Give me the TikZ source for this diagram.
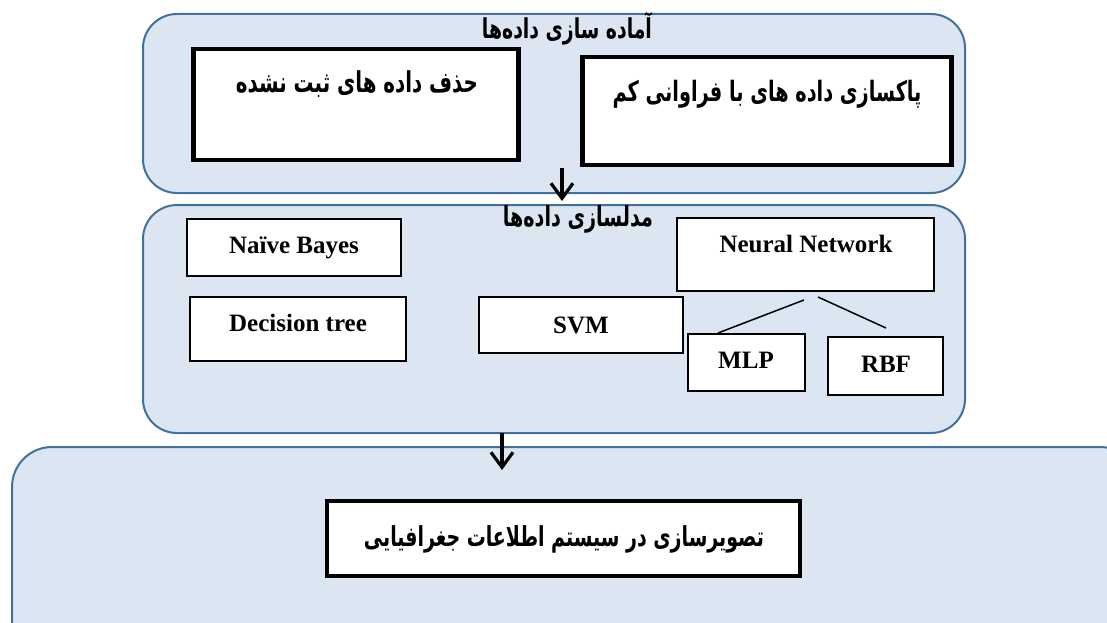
\documentclass[tikz,border=0pt]{standalone}
\usepackage{fontspec}
\setmainfont{Liberation Serif}
\newfontfamily\arabicfont[Script=Arabic]{DejaVu Sans}
\TeXXeTstate=1
\usetikzlibrary{arrows.meta}
\definecolor{panelfill}{HTML}{DCE6F2}
\definecolor{panelline}{HTML}{41719C}
\newcommand\fatext[2]{\scalebox{1}[1.45]{\resizebox{#1}{!}{\arabicfont\bfseries #2}}}
\begin{document}
\begin{tikzpicture}[x=1pt,y=-1pt,
  panel/.style={draw=panelline, fill=panelfill, line width=2pt, rounded corners=34pt, inner sep=0pt},
  thickbox/.style={draw=black, fill=white, line width=4.5pt, inner sep=0pt},
  thinbox/.style={draw=black, fill=white, line width=2pt, inner sep=0pt,
    font=\fontsize{25}{30}\selectfont\bfseries},
  label/.style={inner sep=0pt, font=\fontsize{25}{30}\selectfont\bfseries},
  flow/.style={draw=black, line width=3.2pt, -{Straight Barb[length=15pt,width=22pt,line width=3.2pt]}},
  link/.style={draw=black, line width=1.5pt}]
\clip (0,0) rectangle (1107,623);
\fill[white] (0,0) rectangle (1107,623);

% panel 1
\node[panel, minimum width=822pt, minimum height=179pt] (p1) at (554,103.5) {};
\node[inner sep=0pt] (t1) at (567,29) {\fatext{170pt}{\beginR آماده سازی داده‌ها\endR}};
\node[thickbox, minimum width=325pt, minimum height=111pt] (ba) at (356,104.5) {};
\node[inner sep=0pt] (ta) at (357,84) {\fatext{242pt}{\beginR حذف داده های ثبت نشده\endR}};
\node[thickbox, minimum width=369pt, minimum height=108pt] (bb) at (767,111) {};
\node[inner sep=0pt] (tb) at (767,94) {\fatext{309pt}{\beginR پاکسازی  داده های با فراوانی  کم\endR}};

% panel 2
\node[panel, minimum width=822pt, minimum height=228pt] (p2) at (554,319) {};
\node[inner sep=0pt] (t2) at (578,219) {\fatext{150pt}{\beginR مدلسازی داده‌ها\endR}};
\node[thinbox, minimum width=214pt, minimum height=57pt] (nb) at (294,247.5) {Naïve Bayes};
\node[thinbox, minimum width=216pt, minimum height=64pt] (dt) at (298,329) {};
\node[label] (dtt) at (298,323) {Decision tree};
\node[thinbox, minimum width=204pt, minimum height=56pt] (svm) at (581,325) {SVM};
\node[thinbox, minimum width=257pt, minimum height=73pt] (nn) at (805.5,254.5) {};
\node[label] (nnt) at (806,244) {Neural Network};
\node[thinbox, minimum width=117pt, minimum height=57pt] (mlp) at (746.5,362.5) {};
\node[label] (mlpt) at (746,360) {MLP};
\node[thinbox, minimum width=115pt, minimum height=58pt] (rbf) at (885.5,366) {};
\node[label] (rbft) at (886,364) {RBF};
\coordinate (nnA) at (804,300);
\coordinate (mlpA) at (718,333);
\coordinate (nnB) at (818,297);
\coordinate (rbfB) at (886,328);
\draw[link] (nnA) -- (mlpA);
\draw[link] (nnB) -- (rbfB);

% panel 3
\node[panel, rounded corners=40pt, minimum width=1128pt, minimum height=213pt] (p3) at (576,553.5) {};
\node[thickbox, minimum width=473pt, minimum height=75pt] (gis) at (563.5,538.5) {};
\node[inner sep=0pt] (gist) at (564,539) {\fatext{400pt}{\beginR تصویرسازی در سیستم اطلاعات جغرافیایی\endR}};

% arrows
\coordinate (a1s) at (562,168);
\coordinate (a1e) at (562,201);
\coordinate (a2s) at (502,433);
\coordinate (a2e) at (502,470);
\draw[flow] (a1s) -- (a1e);
\draw[flow] (a2s) -- (a2e);
\end{tikzpicture}
\end{document}
